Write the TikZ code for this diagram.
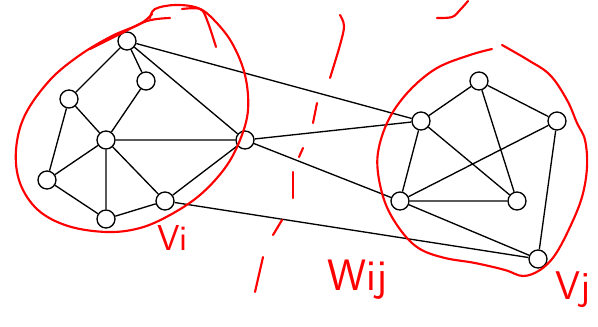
\documentclass[tikz,border=0pt]{standalone}
\usepackage{tikz}
\usetikzlibrary{positioning}

\begin{document}
\begin{tikzpicture}[x=0.75pt, y=-0.75pt,
    vtx/.style={circle, draw, line width=1pt, fill=white, minimum size=13.5pt, inner sep=0pt},
    link/.style={line width=1pt},
    pen/.style={red, line width=1.6pt, line cap=round, line join=round},
    hand/.style={red, anchor=base west, inner sep=0pt, font=\sffamily}]
  \useasboundingbox (0,0) rectangle (598,326);

  % left group
  \node[vtx] (a) at (127,41) {};
  \node[vtx] (b) at (146,81) {};
  \node[vtx] (c) at (69,99) {};
  \node[vtx] (d) at (106,140) {};
  \node[vtx] (e) at (47,180) {};
  \node[vtx] (f) at (106,219) {};
  \node[vtx] (g) at (165,201) {};
  \node[vtx] (h) at (245,140) {};

  % right group
  \node[vtx] (i) at (421,121) {};
  \node[vtx] (j) at (479,81) {};
  \node[vtx] (k) at (557,121) {};
  \node[vtx] (l) at (400,201) {};
  \node[vtx] (m) at (517,201) {};
  \node[vtx] (n) at (538,259) {};

  % edges
  \draw[link] (a) -- (b) (a) -- (c) (a) -- (h) (b) -- (d) (c) -- (d) (c) -- (e)
    (e) -- (d) (e) -- (f) (d) -- (f) (d) -- (g) (d) -- (h) (g) -- (h) (f) -- (g);
  \draw[link] (i) -- (j) (j) -- (k) (j) -- (m) (i) -- (l) (i) -- (m) (l) -- (k)
    (l) -- (m) (l) -- (n) (k) -- (n);
  \draw[link] (a) -- (i) (h) -- (i) (h) -- (l) (g) -- (n);

  % red marks
  \draw[pen] plot[smooth, tension=0.6] coordinates {(90,49) (120,34) (147,21) (170,18)};
  \draw[pen] plot[smooth, tension=0.6] coordinates {(150,18) (155,9) (175,5) (198,8)
    (214,20) (232,43) (245,75) (248,110) (240,140) (225,168) (200,195) (170,215)
    (140,228) (107,232) (68,226) (38,210) (20,183) (16,150) (25,115) (50,80)
    (80,55) (112,36) (140,24) (152,14)};
  \draw[pen] plot[smooth, tension=0.6] coordinates {(182,9) (200,9) (207,20) (216,47)};
  \draw[pen] plot[smooth, tension=0.6] coordinates {(492,49) (470,55) (437,68)
    (410,90) (390,117) (379,147) (378,173) (386,205) (402,232) (420,249) (445,258)
    (475,263) (505,270) (523,276) (540,270) (555,255) (570,227) (582,197) (587,167)
    (585,140) (577,123) (567,100) (550,75) (528,60) (502,45)};
  \draw[pen] plot[smooth, tension=0.6] coordinates {(437,18) (452,17) (460,10) (468,1)};

  % dashed cut
  \draw[pen] plot[smooth, tension=0.6] coordinates {(340,15) (344,26) (340,45) (330,78)};
  \draw[pen] (317,103) -- (313,123);
  \draw[pen] (303,148) -- (299,157);
  \draw[pen] (293,172) -- (293,198);
  \draw[pen] (282,220) -- (273,235);
  \draw[pen] (263,257) -- (255,292);

  % labels
  \node[hand, font=\sffamily\fontsize{27}{27}\selectfont] (vi) at (157,250) {Vi};
  \node[hand, font=\sffamily\fontsize{33}{33}\selectfont] (wij) at (327,290) {Wij};
  \node[hand, font=\sffamily\fontsize{30}{30}\selectfont] (vj) at (555,299) {Vj};
\end{tikzpicture}
\end{document}
